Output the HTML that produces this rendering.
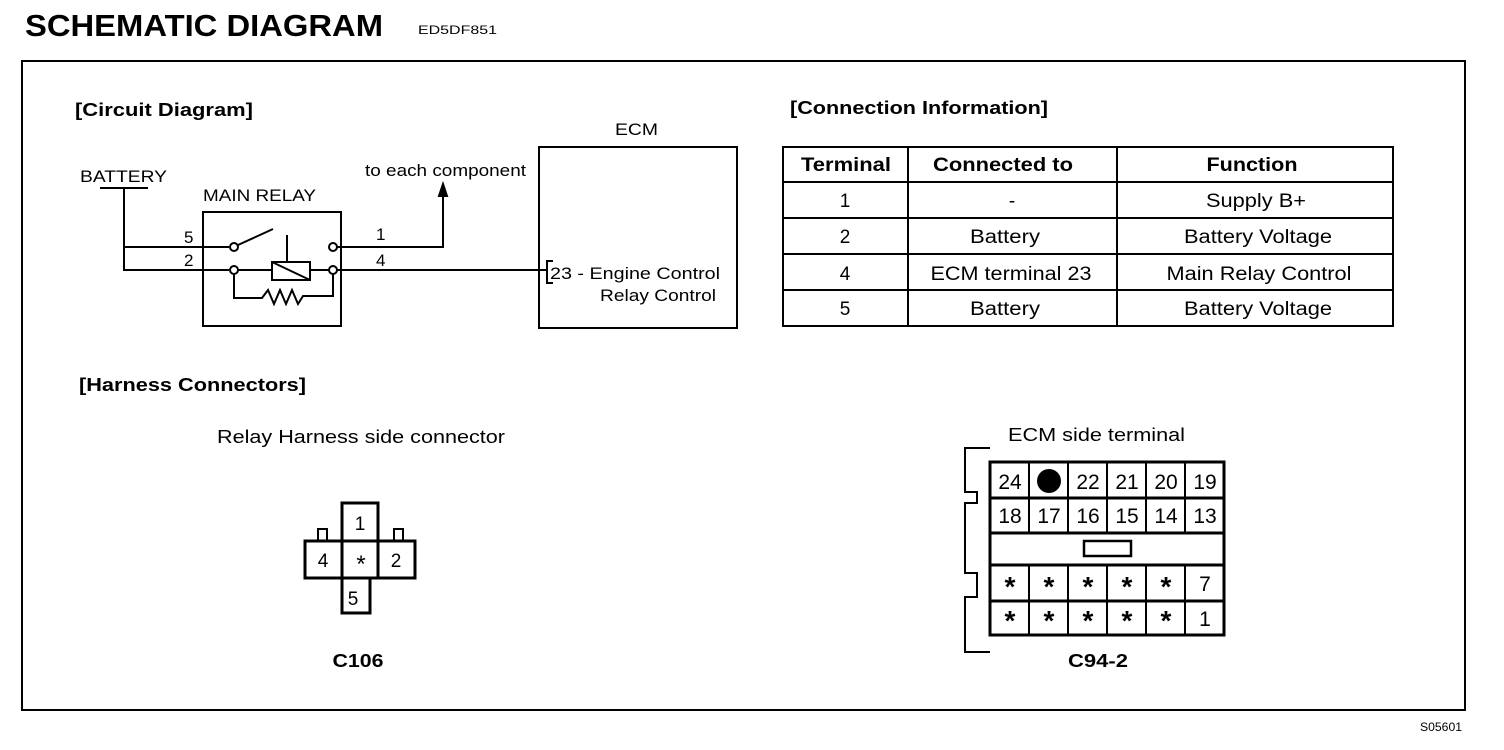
<!DOCTYPE html>
<html><head><meta charset="utf-8"><style>
html,body{margin:0;padding:0;background:#fff;}
svg{display:block;}
text{font-family:"Liberation Sans",Arial,sans-serif;fill:#000;}
</style></head><body>
<svg width="1504" height="750" viewBox="0 0 1504 750" xmlns="http://www.w3.org/2000/svg">
<text x="25" y="36" font-size="31" font-weight="bold" textLength="358" lengthAdjust="spacingAndGlyphs">SCHEMATIC  DIAGRAM</text>
<text x="418" y="34" font-size="12" textLength="79" lengthAdjust="spacingAndGlyphs">ED5DF851</text>
<text x="1420" y="731" font-size="12" textLength="42" lengthAdjust="spacingAndGlyphs">S05601</text>
<rect x="22" y="61" width="1443" height="649" fill="none" stroke="#000" stroke-width="2"/>

<g fill="none" stroke="#000" stroke-width="2">
<line x1="100" y1="188" x2="148" y2="188"/>
<polyline points="124,188 124,270 229,270"/>
<line x1="124" y1="247" x2="229" y2="247"/>
<rect x="203" y="212" width="138" height="114"/>
<circle cx="234" cy="247" r="4" fill="#fff"/>
<circle cx="333" cy="247" r="4" fill="#fff"/>
<circle cx="234" cy="270" r="4" fill="#fff"/>
<circle cx="333" cy="270" r="4" fill="#fff"/>
<line x1="238" y1="245" x2="273" y2="229"/>
<line x1="237" y1="270" x2="272" y2="270"/>
<line x1="310" y1="270" x2="329" y2="270"/>
<line x1="287" y1="235" x2="287" y2="262"/>
<rect x="272" y="262" width="38" height="18"/>
<line x1="272" y1="262" x2="310" y2="280"/>
<polyline points="234,274 234,298 262,298 268,290 274,304 280,290 286,304 292,290 298,304 303,296 333,296 333,274"/>
<polyline points="337,247 443,247 443,190"/>
<polygon points="439,196 443,184 447,196" fill="#000"/>
<line x1="337" y1="270" x2="546" y2="270"/>
<rect x="539" y="147" width="198" height="181"/>
<polyline points="553,261 547,261 547,283 553,283"/>
<rect x="783" y="147" width="610" height="179"/>
<line x1="783" y1="182" x2="1393" y2="182"/>
<line x1="783" y1="218" x2="1393" y2="218"/>
<line x1="783" y1="254" x2="1393" y2="254"/>
<line x1="783" y1="290" x2="1393" y2="290"/>
<line x1="908" y1="147" x2="908" y2="326"/>
<line x1="1117" y1="147" x2="1117" y2="326"/>
<g stroke-width="3">
<rect x="342" y="503" width="36" height="38"/>
<rect x="305" y="541" width="110" height="37"/>
<line x1="342" y1="541" x2="342" y2="578"/>
<line x1="378" y1="541" x2="378" y2="578"/>
<rect x="342" y="578" width="28" height="35"/>
</g>
<rect x="318" y="529" width="9" height="12"/>
<rect x="394" y="529" width="9" height="12"/>
<polyline points="990,448 965,448 965,492 977,492 977,503 965,503 965,573 977,573 977,597 965,597 965,652 990,652" />
<g stroke-width="3">
<rect x="990" y="462" width="234" height="173"/>
<line x1="990" y1="498" x2="1224" y2="498"/>
<line x1="990" y1="533" x2="1224" y2="533"/>
<line x1="990" y1="565" x2="1224" y2="565"/>
<line x1="990" y1="601" x2="1224" y2="601"/>
</g>
<g stroke-width="2">
<line x1="1029" y1="462" x2="1029" y2="533"/><line x1="1068" y1="462" x2="1068" y2="533"/><line x1="1107" y1="462" x2="1107" y2="533"/><line x1="1146" y1="462" x2="1146" y2="533"/><line x1="1185" y1="462" x2="1185" y2="533"/>
<line x1="1029" y1="565" x2="1029" y2="635"/><line x1="1068" y1="565" x2="1068" y2="635"/><line x1="1107" y1="565" x2="1107" y2="635"/><line x1="1146" y1="565" x2="1146" y2="635"/><line x1="1185" y1="565" x2="1185" y2="635"/>
</g>
<rect x="1084" y="541" width="47" height="15" stroke-width="2.5"/>
</g>
<circle cx="1049" cy="481" r="12" fill="#000"/>

<g font-size="18" font-weight="bold">
<text x="75" y="116" textLength="178" lengthAdjust="spacingAndGlyphs">[Circuit Diagram]</text>
<text x="790" y="114" textLength="258" lengthAdjust="spacingAndGlyphs">[Connection Information]</text>
<text x="79" y="391" textLength="227" lengthAdjust="spacingAndGlyphs">[Harness Connectors]</text>
</g>
<g font-size="18">
<text x="217" y="443" textLength="288" lengthAdjust="spacingAndGlyphs">Relay Harness side connector</text>
<text x="1008" y="441" textLength="177" lengthAdjust="spacingAndGlyphs">ECM side terminal</text>
</g>
<g font-size="17">
<text x="80" y="182" textLength="87" lengthAdjust="spacingAndGlyphs">BATTERY</text>
<text x="203" y="201" textLength="113" lengthAdjust="spacingAndGlyphs">MAIN RELAY</text>
<text x="365" y="176" textLength="161" lengthAdjust="spacingAndGlyphs">to each component</text>
<text x="615" y="135" textLength="43" lengthAdjust="spacingAndGlyphs">ECM</text>
<text x="184" y="243">5</text>
<text x="184" y="266">2</text>
<text x="376" y="240">1</text>
<text x="376" y="266">4</text>
<text x="550" y="279" textLength="170" lengthAdjust="spacingAndGlyphs">23 - Engine Control</text>
<text x="600" y="301" textLength="116" lengthAdjust="spacingAndGlyphs">Relay Control</text>
</g>
<g font-size="19" text-anchor="middle">
<text x="846" y="171" font-weight="bold" textLength="90" lengthAdjust="spacingAndGlyphs">Terminal</text>
<text x="1003" y="171" font-weight="bold" textLength="140" lengthAdjust="spacingAndGlyphs">Connected to</text>
<text x="1252" y="171" font-weight="bold" textLength="91" lengthAdjust="spacingAndGlyphs">Function</text>
<text x="845" y="207">1</text><text x="1012" y="207">-</text><text x="1256" y="207" textLength="100" lengthAdjust="spacingAndGlyphs">Supply B+</text>
<text x="845" y="243">2</text><text x="1005" y="243" textLength="70" lengthAdjust="spacingAndGlyphs">Battery</text><text x="1258" y="243" textLength="148" lengthAdjust="spacingAndGlyphs">Battery Voltage</text>
<text x="845" y="280">4</text><text x="1011" y="280" textLength="161" lengthAdjust="spacingAndGlyphs">ECM terminal 23</text><text x="1259" y="280" textLength="185" lengthAdjust="spacingAndGlyphs">Main Relay Control</text>
<text x="845" y="315">5</text><text x="1005" y="315" textLength="70" lengthAdjust="spacingAndGlyphs">Battery</text><text x="1258" y="315" textLength="148" lengthAdjust="spacingAndGlyphs">Battery Voltage</text>
</g>
<g font-size="19" text-anchor="middle">
<text x="360" y="530">1</text>
<text x="323" y="567">4</text>
<text x="361" y="572" font-size="24">*</text>
<text x="396" y="567">2</text>
<text x="353" y="605">5</text>
<text x="358" y="667" font-weight="bold" font-size="18" textLength="51" lengthAdjust="spacingAndGlyphs">C106</text>
<text x="1098" y="667" font-weight="bold" font-size="18" textLength="60" lengthAdjust="spacingAndGlyphs">C94-2</text>
</g>
<g font-size="21" text-anchor="middle">
<text x="1010" y="489">24</text><text x="1088" y="489">22</text><text x="1127" y="489">21</text><text x="1166" y="489">20</text><text x="1205" y="489">19</text>
<text x="1010" y="523">18</text><text x="1049" y="523">17</text><text x="1088" y="523">16</text><text x="1127" y="523">15</text><text x="1166" y="523">14</text><text x="1205" y="523">13</text>
<text x="1205" y="591">7</text><text x="1205" y="626">1</text>
</g>
<g font-size="28" text-anchor="middle" font-weight="bold">
<text x="1010" y="596">*</text><text x="1049" y="596">*</text><text x="1088" y="596">*</text><text x="1127" y="596">*</text><text x="1166" y="596">*</text>
<text x="1010" y="630">*</text><text x="1049" y="630">*</text><text x="1088" y="630">*</text><text x="1127" y="630">*</text><text x="1166" y="630">*</text>
</g>
</svg>
</body></html>
